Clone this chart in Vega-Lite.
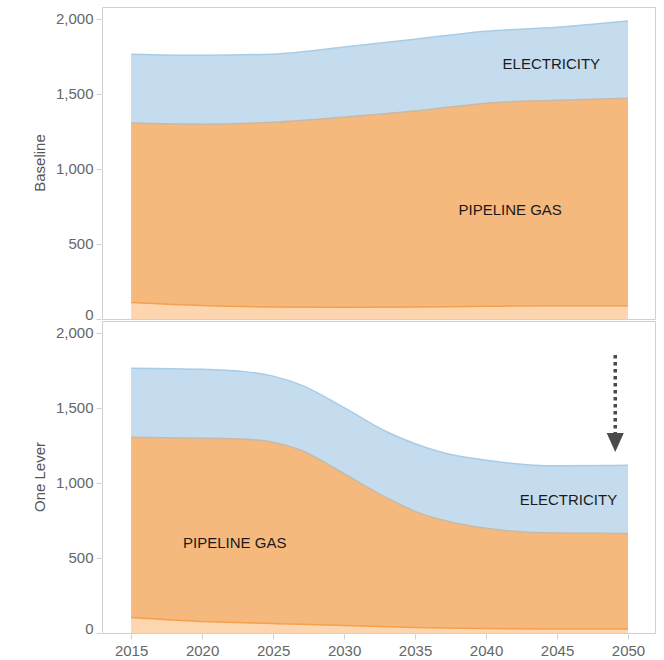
{
  "$schema": "https://vega.github.io/schema/vega-lite/v6.json",
  "padding": {"left": 33, "top": 6, "right": 6, "bottom": 0},
  "background": "white",
  "config": {
    "view": {"stroke": "#d0d0d0", "strokeWidth": 1},
    "font": "Liberation Sans"
  },
  "data": {
    "values": [
      {"scenario": "Baseline", "year": 2015, "fuel": "Other gas", "value": 110},
      {"scenario": "Baseline", "year": 2020, "fuel": "Other gas", "value": 90},
      {"scenario": "Baseline", "year": 2025, "fuel": "Other gas", "value": 80},
      {"scenario": "Baseline", "year": 2030, "fuel": "Other gas", "value": 78},
      {"scenario": "Baseline", "year": 2035, "fuel": "Other gas", "value": 80},
      {"scenario": "Baseline", "year": 2040, "fuel": "Other gas", "value": 85},
      {"scenario": "Baseline", "year": 2045, "fuel": "Other gas", "value": 88},
      {"scenario": "Baseline", "year": 2050, "fuel": "Other gas", "value": 88},
      {"scenario": "Baseline", "year": 2015, "fuel": "Pipeline gas", "value": 1194},
      {"scenario": "Baseline", "year": 2020, "fuel": "Pipeline gas", "value": 1207},
      {"scenario": "Baseline", "year": 2025, "fuel": "Pipeline gas", "value": 1230},
      {"scenario": "Baseline", "year": 2030, "fuel": "Pipeline gas", "value": 1266},
      {"scenario": "Baseline", "year": 2035, "fuel": "Pipeline gas", "value": 1304},
      {"scenario": "Baseline", "year": 2040, "fuel": "Pipeline gas", "value": 1352},
      {"scenario": "Baseline", "year": 2045, "fuel": "Pipeline gas", "value": 1369},
      {"scenario": "Baseline", "year": 2050, "fuel": "Pipeline gas", "value": 1382},
      {"scenario": "Baseline", "year": 2015, "fuel": "Electricity", "value": 459},
      {"scenario": "Baseline", "year": 2020, "fuel": "Electricity", "value": 459},
      {"scenario": "Baseline", "year": 2025, "fuel": "Electricity", "value": 453},
      {"scenario": "Baseline", "year": 2030, "fuel": "Electricity", "value": 466},
      {"scenario": "Baseline", "year": 2035, "fuel": "Electricity", "value": 479},
      {"scenario": "Baseline", "year": 2040, "fuel": "Electricity", "value": 479},
      {"scenario": "Baseline", "year": 2045, "fuel": "Electricity", "value": 485},
      {"scenario": "Baseline", "year": 2050, "fuel": "Electricity", "value": 513},
      {"scenario": "One Lever", "year": 2015, "fuel": "Other gas", "value": 103},
      {"scenario": "One Lever", "year": 2020, "fuel": "Other gas", "value": 77},
      {"scenario": "One Lever", "year": 2023, "fuel": "Other gas", "value": 68},
      {"scenario": "One Lever", "year": 2025, "fuel": "Other gas", "value": 63},
      {"scenario": "One Lever", "year": 2027, "fuel": "Other gas", "value": 58},
      {"scenario": "One Lever", "year": 2030, "fuel": "Other gas", "value": 50},
      {"scenario": "One Lever", "year": 2033, "fuel": "Other gas", "value": 42},
      {"scenario": "One Lever", "year": 2035, "fuel": "Other gas", "value": 37},
      {"scenario": "One Lever", "year": 2037, "fuel": "Other gas", "value": 33},
      {"scenario": "One Lever", "year": 2040, "fuel": "Other gas", "value": 30},
      {"scenario": "One Lever", "year": 2045, "fuel": "Other gas", "value": 27},
      {"scenario": "One Lever", "year": 2050, "fuel": "Other gas", "value": 27},
      {"scenario": "One Lever", "year": 2015, "fuel": "Pipeline gas", "value": 1200},
      {"scenario": "One Lever", "year": 2020, "fuel": "Pipeline gas", "value": 1220},
      {"scenario": "One Lever", "year": 2023, "fuel": "Pipeline gas", "value": 1222},
      {"scenario": "One Lever", "year": 2025, "fuel": "Pipeline gas", "value": 1207},
      {"scenario": "One Lever", "year": 2027, "fuel": "Pipeline gas", "value": 1157},
      {"scenario": "One Lever", "year": 2030, "fuel": "Pipeline gas", "value": 1010},
      {"scenario": "One Lever", "year": 2033, "fuel": "Pipeline gas", "value": 858},
      {"scenario": "One Lever", "year": 2035, "fuel": "Pipeline gas", "value": 773},
      {"scenario": "One Lever", "year": 2037, "fuel": "Pipeline gas", "value": 717},
      {"scenario": "One Lever", "year": 2040, "fuel": "Pipeline gas", "value": 667},
      {"scenario": "One Lever", "year": 2045, "fuel": "Pipeline gas", "value": 638},
      {"scenario": "One Lever", "year": 2050, "fuel": "Pipeline gas", "value": 636},
      {"scenario": "One Lever", "year": 2015, "fuel": "Electricity", "value": 460},
      {"scenario": "One Lever", "year": 2020, "fuel": "Electricity", "value": 458},
      {"scenario": "One Lever", "year": 2023, "fuel": "Electricity", "value": 450},
      {"scenario": "One Lever", "year": 2025, "fuel": "Electricity", "value": 440},
      {"scenario": "One Lever", "year": 2027, "fuel": "Electricity", "value": 435},
      {"scenario": "One Lever", "year": 2030, "fuel": "Electricity", "value": 440},
      {"scenario": "One Lever", "year": 2033, "fuel": "Electricity", "value": 440},
      {"scenario": "One Lever", "year": 2035, "fuel": "Electricity", "value": 450},
      {"scenario": "One Lever", "year": 2037, "fuel": "Electricity", "value": 450},
      {"scenario": "One Lever", "year": 2040, "fuel": "Electricity", "value": 453},
      {"scenario": "One Lever", "year": 2045, "fuel": "Electricity", "value": 448},
      {"scenario": "One Lever", "year": 2050, "fuel": "Electricity", "value": 454},
      {"scenario": "Baseline", "year": 2044.6, "label": "ELECTRICITY", "value": 1696},
      {"scenario": "Baseline", "year": 2041.7, "label": "PIPELINE GAS", "value": 725},
      {"scenario": "One Lever", "year": 2045.8, "label": "ELECTRICITY", "value": 883},
      {"scenario": "One Lever", "year": 2022.3, "label": "PIPELINE GAS", "value": 597},
      {"scenario": "One Lever", "year": 2049.1, "arrow": "reduction", "value": 1850, "value2": 1300, "head": 1268}
    ]
  },
  "facet": {
    "row": {
      "field": "scenario",
      "type": "nominal",
      "sort": ["Baseline", "One Lever"],
      "header": {
        "title": null,
        "labelAngle": -90,
        "labelOrient": "left",
        "labelFontSize": 15,
        "labelColor": "#555555",
        "labelFont": "Liberation Sans",
        "labelPadding": 0
      }
    }
  },
  "spacing": {"row": 0},
  "resolve": {"scale": {"y": "shared", "x": "shared"}},
  "spec": {
    "width": 553,
    "height": 312,
    "encoding": {
      "x": {
        "field": "year",
        "type": "quantitative",
        "scale": {"domain": [2012.95, 2051.9], "nice": false, "zero": false},
        "axis": {
          "title": null,
          "values": [2015, 2020, 2025, 2030, 2035, 2040, 2045, 2050],
          "format": "d",
          "grid": false,
          "domain": false,
          "ticks": true,
          "tickColor": "#d0d0d0",
          "tickSize": 5,
          "labelPadding": 4,
          "labelFontSize": 15,
          "labelColor": "#666666",
          "labelFont": "Liberation Sans"
        }
      }
    },
    "layer": [
      {
        "transform": [
          {"filter": "isValid(datum.fuel)"},
          {"calculate": "indexof(['Other gas','Pipeline gas','Electricity'], datum.fuel)", "as": "stackOrder"}
        ],
        "mark": {"type": "area", "interpolate": "monotone"},
        "encoding": {
          "y": {
            "field": "value",
            "type": "quantitative",
            "stack": "zero",
            "scale": {"domain": [0, 2077], "nice": false},
            "axis": {
              "title": null,
              "values": [0, 500, 1000, 1500, 2000],
              "format": ",d",
              "grid": false,
              "domain": false,
              "ticks": true,
              "tickColor": "#d0d0d0",
              "tickSize": 5,
              "labelPadding": 3,
              "labelFontSize": 15,
              "labelColor": "#666666",
              "labelFont": "Liberation Sans",
              "labelFlush": true,
              "labelFlushOffset": 3
            }
          },
          "color": {
            "field": "fuel",
            "type": "nominal",
            "scale": {"domain": ["Other gas", "Pipeline gas", "Electricity"], "range": ["#fdd6b0", "#f5b97e", "#c5dcee"]},
            "legend": null
          },
          "order": {"field": "stackOrder", "type": "quantitative"}
        }
      },
      {
        "transform": [
          {"filter": "isValid(datum.fuel)"},
          {"calculate": "indexof(['Other gas','Pipeline gas','Electricity'], datum.fuel)", "as": "stackOrder"}
        ],
        "mark": {"type": "line", "interpolate": "monotone", "strokeWidth": 1.5},
        "encoding": {
          "y": {"field": "value", "type": "quantitative", "stack": "zero"},
          "stroke": {
            "field": "fuel",
            "type": "nominal",
            "scale": {"domain": ["Other gas", "Pipeline gas", "Electricity"], "range": ["#f4a04c", "#c8b9a4", "#a9cce6"]},
            "legend": null
          },
          "order": {"field": "stackOrder", "type": "quantitative"},
          "detail": {"field": "fuel"}
        }
      },
      {
        "transform": [{"filter": "isValid(datum.label)"}],
        "mark": {"type": "text", "fontSize": 15, "font": "Liberation Sans", "color": "#1a1a1a", "align": "center", "baseline": "middle"},
        "encoding": {
          "y": {"field": "value", "type": "quantitative"},
          "text": {"field": "label"}
        }
      },
      {
        "transform": [{"filter": "isValid(datum.arrow)"}],
        "mark": {"type": "rule", "strokeDash": [3.5, 3.5], "strokeWidth": 3.5, "color": "#4a4a4a"},
        "encoding": {
          "y": {"field": "value", "type": "quantitative"},
          "y2": {"field": "value2"}
        }
      },
      {
        "transform": [{"filter": "isValid(datum.arrow)"}],
        "mark": {"type": "point", "shape": "M-0.9,-1L0.9,-1L0,1Z", "filled": true, "size": 361, "color": "#4a4a4a", "opacity": 1},
        "encoding": {
          "y": {"field": "head", "type": "quantitative"}
        }
      }
    ]
  }
}
